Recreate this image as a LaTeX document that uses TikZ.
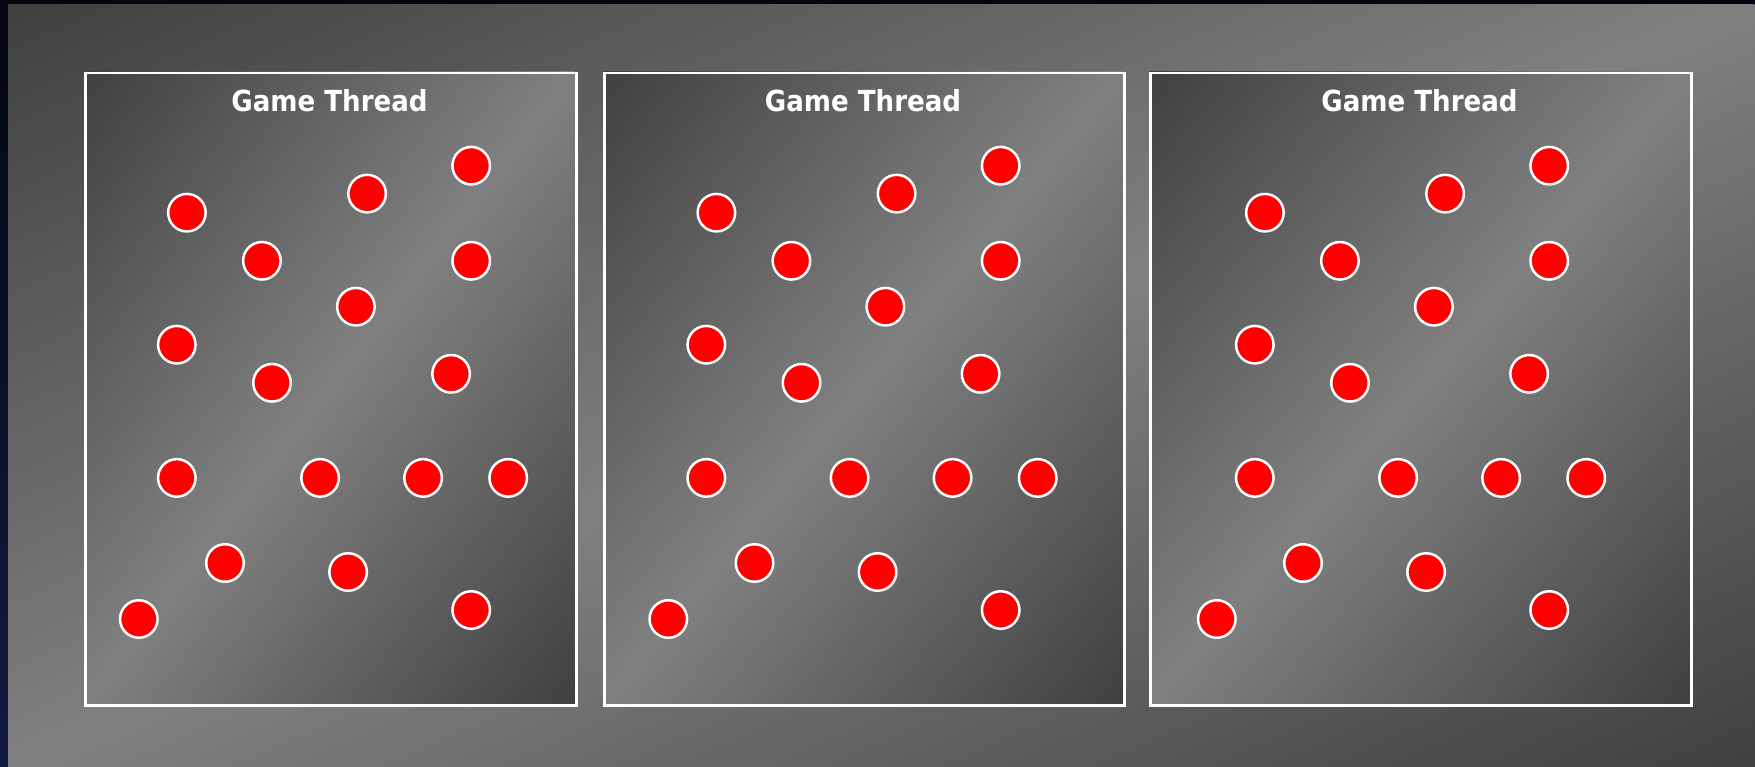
\documentclass[tikz,border=0pt]{standalone}
\usepackage{fontspec}
\newfontfamily\titlefont[FakeStretch=0.9]{DejaVu Sans}
\definecolor{bgdark}{HTML}{404040}
\definecolor{bglight}{HTML}{808080}
\definecolor{navytop}{HTML}{03060F}
\definecolor{navybot}{HTML}{121C40}
\definecolor{dotred}{HTML}{FF0000}
\tikzset{
  panelframe/.style={draw=white, line width=2.5pt, rectangle, inner sep=0pt, anchor=north west},
  dot/.style={circle, draw=white, line width=2.5pt, fill=dotred, minimum size=37.5pt, inner sep=0pt},
  title/.style={text=white, font=\titlefont\bfseries\fontsize{29}{32}\selectfont}
}
% diagonal gradient: dark at top-left and bottom-right corners, light along the other diagonal
\newcommand\diagshade[4]{%
  \begin{scope}
    \clip (#1,#2) rectangle (#3,#4);
    \pgfmathsetmacro\dgcx{(#1+#3)/2}%
    \pgfmathsetmacro\dgcy{(#2+#4)/2}%
    \pgfmathsetmacro\dgax{(#1-#3)/2}%
    \pgfmathsetmacro\dgay{(#2-#4)/2}%
    \foreach \k in {-32,...,31} {
      \pgfmathsetmacro\dgta{\k/32}%
      \pgfmathsetmacro\dgtb{(\k+1.3)/32}%
      \pgfmathsetmacro\dgpc{100*(1-abs((\k+0.5)/32))}%
      \fill[bglight!\dgpc!bgdark]
        (\dgcx+\dgta*\dgax-\dgax, \dgcy+\dgta*\dgay+\dgay) --
        (\dgcx+\dgta*\dgax+\dgax, \dgcy+\dgta*\dgay-\dgay) --
        (\dgcx+\dgtb*\dgax+\dgax, \dgcy+\dgtb*\dgay-\dgay) --
        (\dgcx+\dgtb*\dgax-\dgax, \dgcy+\dgtb*\dgay+\dgay) -- cycle;
    }
  \end{scope}}
\begin{document}
\begin{tikzpicture}[x=1pt,y=-1pt]
\useasboundingbox (0,0) rectangle (1755,767);
\shade[top color=navytop, bottom color=navybot] (0,0) rectangle (1755,767);
\diagshade{8}{5}{1755}{767}
% panels
\diagshade{84}{72}{575}{704}
\diagshade{603}{72}{1123}{704}
\diagshade{1149}{72}{1690}{704}
\node[panelframe, minimum width=491pt, minimum height=632pt] (p1) at (84,72) {};
\node[panelframe, minimum width=520pt, minimum height=632pt] (p2) at (603,72) {};
\node[panelframe, minimum width=541pt, minimum height=632pt] (p3) at (1149,72) {};
% titles
\node[title] (t1) at (329.5,101) {Game Thread};
\node[title] (t2) at (863,101) {Game Thread};
\node[title] (t3) at (1419.5,101) {Game Thread};
% dots
\foreach \ox/\b in {0/1, 529.5/2, 1078/3} {
  \foreach \x/\y [count=\i] in {471.2/165.7, 367.1/193.6, 186.9/212.7, 261.9/260.8, 471.2/260.8,
      355.9/306.7, 176.8/344.7, 272.0/382.8, 451.1/373.8, 176.8/477.9, 320.1/477.9,
      423.1/477.9, 508.2/477.9, 225.0/563.0, 348.1/572.0, 138.8/619.0, 471.2/610.0} {
    \node[dot] (c\b-\i) at (\x+\ox,\y) {};
  }
}
\end{tikzpicture}
\end{document}
